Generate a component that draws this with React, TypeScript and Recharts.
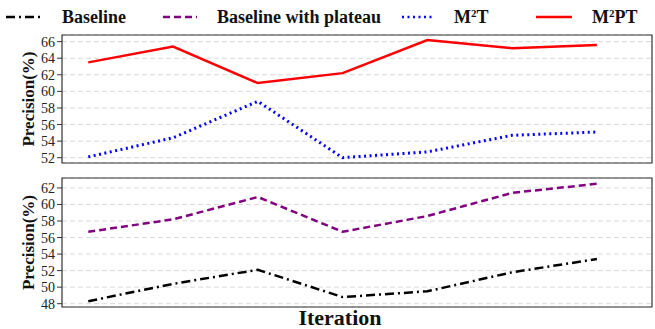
import React from 'react';
import { LineChart, Line, XAxis, YAxis, CartesianGrid, ReferenceArea, Label } from 'recharts';

const iterations = [1, 2, 3, 4, 5, 6, 7];
const m2pt = [63.5, 65.4, 61.0, 62.2, 66.2, 65.2, 65.6];
const m2t = [52.1, 54.4, 58.8, 52.0, 52.7, 54.7, 55.1];
const plateau = [56.7, 58.2, 60.9, 56.7, 58.6, 61.4, 62.5];
const baseline = [48.3, 50.4, 52.1, 48.8, 49.5, 51.8, 53.4];

const topTicks = [52, 54, 56, 58, 60, 62, 64, 66];
const bottomTicks = [48, 50, 52, 54, 56, 58, 60, 62];

const topData = iterations.map((it, i) => ({ it, m2pt: m2pt[i], m2t: m2t[i] }));
const bottomData = iterations.map((it, i) => ({ it, plateau: plateau[i], baseline: baseline[i] }));

const xDomain: [number, number] = [0.69, 7.65];
const topDomain: [number, number] = [51.36, 66.8];
const bottomDomain: [number, number] = [47.6, 63.2];

const serif = '"Liberation Serif", "DejaVu Serif", serif';
const tickStyle = { fontSize: 14, fill: '#222', fontFamily: serif };

const YLabel = (props: any) => {
  const { x, y, height } = props.viewBox;
  const cx = x + 28;
  const cy = y + height / 2;
  return (
    <text
      x={cx}
      y={cy}
      transform={`rotate(-90 ${cx} ${cy})`}
      textAnchor="middle"
      dominantBaseline="central"
      fontFamily={serif}
      fontWeight="bold"
      fontSize={17}
      fill="#111"
    >
      Precision(%)
    </text>
  );
};

const legendItems = [
  { name: 'Baseline', color: '#000', dash: '9 4 2 4', left: 6, width: 36 },
  { name: 'Baseline with plateau', color: '#800080', dash: '7 4', left: 163, width: 34 },
  { name: 'M2T', color: '#0000ff', dash: '2 3.5', left: 402, width: 32 },
  { name: 'M2PT', color: '#ff0000', dash: undefined, left: 536, width: 36 },
];

const LegendName = ({ name }: { name: string }) => {
  if (name.startsWith('M2')) {
    return (
      <span>
        M<sup style={{ fontSize: 11, verticalAlign: 6, lineHeight: 0 }}>2</sup>
        {name.slice(2)}
      </span>
    );
  }
  return <span>{name}</span>;
};

const App = () => {
  return (
    <div style={{ position: 'absolute', left: 0, top: 0, width: 655, height: 329, background: '#fff' }}>
      {legendItems.map((item) => (
        <div
          key={item.name}
          style={{
            position: 'absolute',
            left: item.left,
            top: 6,
            height: 22,
            display: 'flex',
            alignItems: 'center',
            fontFamily: serif,
            fontWeight: 'bold',
            fontSize: 18,
            color: '#111',
            whiteSpace: 'nowrap',
          }}
        >
          <svg width={item.width} height={10} style={{ marginRight: 20 }}>
            <line
              x1={0}
              y1={5}
              x2={item.width}
              y2={5}
              stroke={item.color}
              strokeWidth={2.5}
              strokeDasharray={item.dash}
            />
          </svg>
          <LegendName name={item.name} />
        </div>
      ))}

      <div style={{ position: 'absolute', left: 0, top: 0 }}>
        <LineChart width={655} height={170} data={topData} margin={{ top: 35, right: 3, bottom: 7, left: 0 }}>
          <CartesianGrid vertical={false} stroke="#d9d9d9" strokeDasharray="5 3" />
          <XAxis dataKey="it" type="number" domain={xDomain} hide />
          <YAxis
            domain={topDomain}
            ticks={topTicks}
            interval={0}
            allowDataOverflow
            width={62}
            tick={tickStyle}
            tickSize={5}
            tickMargin={2}
            axisLine={false}
            tickLine={{ stroke: '#333' }}
          >
            <Label content={YLabel} />
          </YAxis>
          <ReferenceArea x1={xDomain[0]} x2={xDomain[1]} y1={topDomain[0]} y2={topDomain[1]} fill="none" stroke="#333" strokeWidth={1.2} />
          <Line dataKey="m2pt" stroke="#ff0000" strokeWidth={2.5} dot={false} isAnimationActive={false} />
          <Line dataKey="m2t" stroke="#0000ff" strokeWidth={3} strokeDasharray="2 3.5" dot={false} isAnimationActive={false} />
        </LineChart>
      </div>

      <div style={{ position: 'absolute', left: 0, top: 170 }}>
        <LineChart width={655} height={159} data={bottomData} margin={{ top: 8, right: 3, bottom: 0, left: 0 }}>
          <CartesianGrid vertical={false} stroke="#d9d9d9" strokeDasharray="5 3" />
          <XAxis dataKey="it" type="number" domain={xDomain} tick={false} tickLine={false} axisLine={false} height={22}>
            <Label
              value="Iteration"
              position="insideBottom"
              offset={4}
              dx={-17}
              style={{ fontFamily: serif, fontWeight: 'bold', fontSize: 22, fill: '#111' }}
            />
          </XAxis>
          <YAxis
            domain={bottomDomain}
            ticks={bottomTicks}
            interval={0}
            allowDataOverflow
            width={62}
            tick={tickStyle}
            tickSize={5}
            tickMargin={2}
            axisLine={false}
            tickLine={{ stroke: '#333' }}
          >
            <Label content={YLabel} />
          </YAxis>
          <ReferenceArea x1={xDomain[0]} x2={xDomain[1]} y1={bottomDomain[0]} y2={bottomDomain[1]} fill="none" stroke="#333" strokeWidth={1.2} />
          <Line dataKey="plateau" stroke="#800080" strokeWidth={2.5} strokeDasharray="7 4" dot={false} isAnimationActive={false} />
          <Line dataKey="baseline" stroke="#000" strokeWidth={2.5} strokeDasharray="9 4 2 4" dot={false} isAnimationActive={false} />
        </LineChart>
      </div>
    </div>
  );
};

export default App;
